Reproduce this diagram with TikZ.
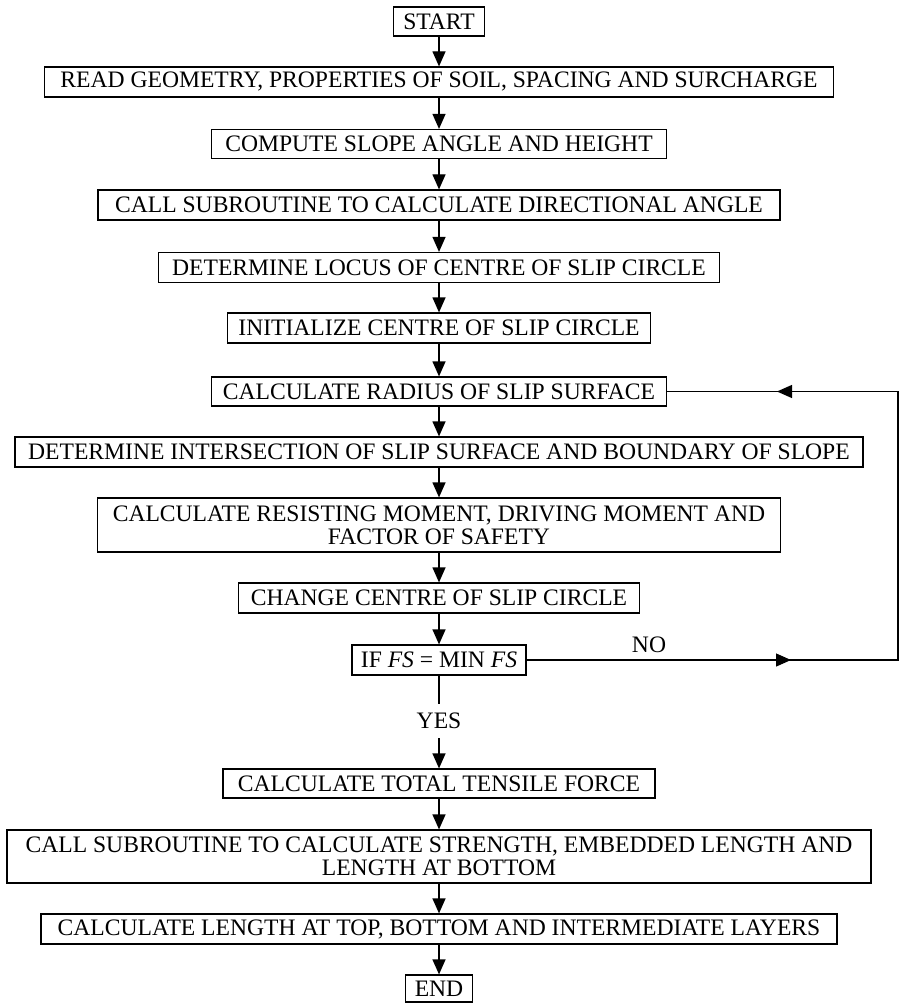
\documentclass[tikz,border=0pt]{standalone}
\usepackage{fontspec}
\setmainfont{Liberation Serif}
\usetikzlibrary{arrows.meta}
\tikzset{
  box/.style={draw, line width=1.2pt, inner xsep=4pt, inner ysep=0pt, anchor=center,
    font=\fontsize{23.6}{23}\selectfont, align=center},
  lbl/.style={font=\fontsize{23.6}{23}\selectfont, inner sep=0pt},
  conn/.style={line width=1.2pt},
  arr/.style={line width=1.2pt, -{Triangle[length=15pt,width=13pt]}}
}
\begin{document}
\begin{tikzpicture}[x=1pt,y=-1pt]
\useasboundingbox[fill=white] (0,0) rectangle (900,1003);
\node[box, minimum width=91pt,  minimum height=29pt] (start)  at (439,21.5) {START};
\node[box, minimum width=789pt, minimum height=30pt] (read)   at (439,82) {READ GEOMETRY, PROPERTIES OF SOIL, SPACING AND SURCHARGE};
\node[box, minimum width=455pt, minimum height=29pt] (comp)   at (439,144) {COMPUTE SLOPE ANGLE AND HEIGHT};
\node[box, minimum width=682pt, minimum height=30pt] (cdir)   at (439,205) {CALL SUBROUTINE TO CALCULATE DIRECTIONAL ANGLE};
\node[box, minimum width=561pt, minimum height=30pt] (locus)  at (439,267.5) {DETERMINE LOCUS OF CENTRE OF SLIP CIRCLE};
\node[box, minimum width=423pt, minimum height=30pt] (init)   at (439,328) {INITIALIZE CENTRE OF SLIP CIRCLE};
\node[box, minimum width=455pt, minimum height=29pt] (radius) at (439,391.5) {CALCULATE RADIUS OF SLIP SURFACE};
\node[box, minimum width=848pt, minimum height=30pt] (inter)  at (439,452) {DETERMINE INTERSECTION OF SLIP SURFACE AND BOUNDARY OF SLOPE};
\node[box, minimum width=683pt, minimum height=54pt] (resist) at (439,525) {CALCULATE RESISTING MOMENT, DRIVING MOMENT AND\\FACTOR OF SAFETY};
\node[box, minimum width=401pt, minimum height=30pt] (change) at (439,598) {CHANGE CENTRE OF SLIP CIRCLE};
\node[box, minimum width=174pt, minimum height=30pt] (iffs)   at (439,660) {IF \textit{FS} = MIN \textit{FS}};
\node[lbl, minimum height=34pt] (yes) at (439,721) {YES};
\node[lbl] (no) at (649,645) {NO};
\node[box, minimum width=432pt, minimum height=29pt] (total)  at (439,783.5) {CALCULATE TOTAL TENSILE FORCE};
\node[box, minimum width=864pt, minimum height=53pt] (cstr)   at (439,856.5) {CALL SUBROUTINE TO CALCULATE STRENGTH, EMBEDDED LENGTH AND\\LENGTH AT BOTTOM};
\node[box, minimum width=796pt, minimum height=30pt] (length) at (439,929) {CALCULATE LENGTH AT TOP, BOTTOM AND INTERMEDIATE LAYERS};
\node[box, minimum width=67pt,  minimum height=27pt] (end)    at (439,988.5) {END};

\draw[arr] (start) -- (read);
\draw[arr] (read) -- (comp);
\draw[arr] (comp) -- (cdir);
\draw[arr] (cdir) -- (locus);
\draw[arr] (locus) -- (init);
\draw[arr] (init) -- (radius);
\draw[arr] (radius) -- (inter);
\draw[arr] (inter) -- (resist);
\draw[arr] (resist) -- (change);
\draw[arr] (change) -- (iffs);
\draw[conn] (iffs) -- (yes);
\draw[arr] (yes) -- (total);
\draw[arr] (total) -- (cstr);
\draw[arr] (cstr) -- (length);
\draw[arr] (length) -- (end);

\coordinate (nocorner) at (898,660);
\coordinate (topcorner) at (898,391.5);
\coordinate (notip) at (791,660);
\coordinate (radtip) at (777,391.5);
\draw[conn] (iffs.east) -- (nocorner) -- (topcorner) -- (radius.east);
\draw[arr] (iffs.east) -- (notip);
\draw[arr] (topcorner) -- (radtip);
\end{tikzpicture}
\end{document}
